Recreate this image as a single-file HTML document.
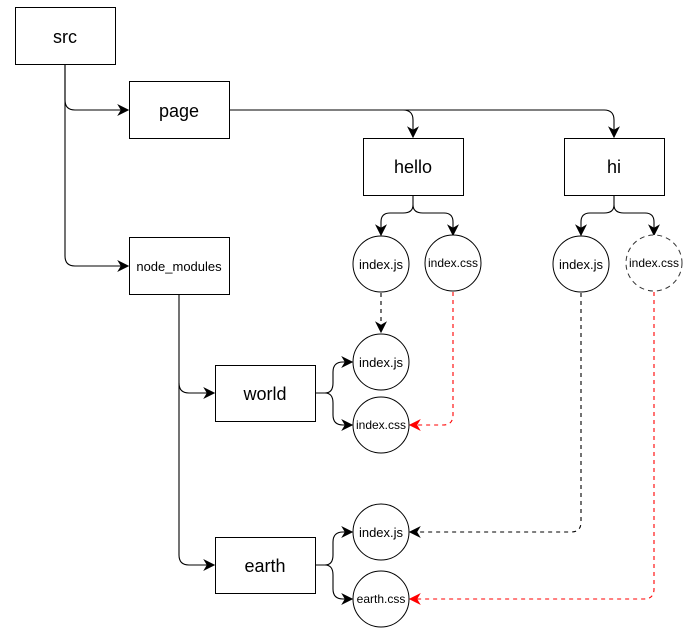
<!DOCTYPE html>
<html><head><meta charset="utf-8"><style>
html,body{margin:0;padding:0;background:#fff;}
svg{display:block;font-family:"Liberation Sans",Arial,sans-serif;}
</style></head><body>
<svg width="699" height="639" viewBox="0 0 699 639" xmlns="http://www.w3.org/2000/svg">
<defs>
<marker id="a" viewBox="0 0 10 10" refX="9" refY="5" markerWidth="12" markerHeight="12" markerUnits="userSpaceOnUse" orient="auto"><path d="M0,0 L10,5 L0,10 L3,5 Z" fill="#000"/></marker>
<marker id="r" viewBox="0 0 10 10" refX="9" refY="5" markerWidth="12" markerHeight="12" markerUnits="userSpaceOnUse" orient="auto"><path d="M0,0 L10,5 L0,10 L3,5 Z" fill="#f00"/></marker>
</defs>
<g fill="none" stroke="#000" stroke-width="1.1">
<path d="M65,64 V100 Q65,110 75,110 H128" marker-end="url(#a)"/>
<path d="M65,64 V256 Q65,266 75,266 H128" marker-end="url(#a)"/>
<path d="M229,110 H403 Q413,110 413,120 V137" marker-end="url(#a)"/>
<path d="M403,110 H604 Q614,110 614,120 V137" marker-end="url(#a)"/>
<path d="M413,195 V205 Q413,213 403,213 H390 Q381,213 381,222 V235" marker-end="url(#a)"/>
<path d="M413,205 Q413,213 423,213 H444 Q453,213 453,222 V235" marker-end="url(#a)"/>
<path d="M614,195 V205 Q614,213 604,213 H590 Q581,213 581,222 V235" marker-end="url(#a)"/>
<path d="M614,205 Q614,213 624,213 H645 Q654,213 654,222 V235" marker-end="url(#a)"/>
<path d="M179,294 V383 Q179,393 189,393 H214" marker-end="url(#a)"/>
<path d="M179,383 V555 Q179,565 189,565 H214" marker-end="url(#a)"/>
<path d="M315,393 H325 Q333,393 333,383 V372 Q333,362 343,362 H352" marker-end="url(#a)"/>
<path d="M325,393 Q333,393 333,403 V415 Q333,425 343,425 H352" marker-end="url(#a)"/>
<path d="M315,565 H325 Q333,565 333,555 V542 Q333,532 343,532 H352" marker-end="url(#a)"/>
<path d="M325,565 Q333,565 333,575 V589 Q333,599 343,599 H352" marker-end="url(#a)"/>
<path d="M381,293 V332" stroke-dasharray="4,4" marker-end="url(#a)"/>
<path d="M581,293 V522 Q581,532 571,532 H410" stroke-dasharray="4,4" marker-end="url(#a)"/>
<path d="M453,292 V415 Q453,425 443,425 H410" stroke="#f00" stroke-dasharray="4,4" marker-end="url(#r)"/>
<path d="M654,292 V589 Q654,599 644,599 H410" stroke="#f00" stroke-dasharray="4,4" marker-end="url(#r)"/>
</g>
<g fill="#fff" stroke="#000" stroke-width="1">
<rect x="15.5" y="7.5" width="100" height="57"/>
<rect x="129.5" y="81.5" width="100" height="57"/>
<rect x="129.5" y="237.5" width="100" height="57"/>
<rect x="363.5" y="138.5" width="100" height="57"/>
<rect x="564.5" y="138.5" width="100" height="57"/>
<rect x="215.5" y="365.5" width="100" height="56"/>
<rect x="215.5" y="537.5" width="100" height="56"/>
<circle cx="381" cy="264" r="28"/>
<circle cx="453" cy="263" r="28"/>
<circle cx="581" cy="264" r="28"/>
<circle cx="654" cy="263" r="28" stroke="#333" stroke-dasharray="5,4"/>
<circle cx="381" cy="362" r="28"/>
<circle cx="381" cy="425" r="28"/>
<circle cx="381" cy="532" r="28"/>
<circle cx="381" cy="599" r="28"/>
</g>
<g fill="#000" text-anchor="middle">
<text x="65" y="43" font-size="18">src</text>
<text x="179" y="117" font-size="18">page</text>
<text x="179" y="271" font-size="13">node_modules</text>
<text x="413" y="173" font-size="18">hello</text>
<text x="614" y="173" font-size="18">hi</text>
<text x="265" y="400" font-size="18">world</text>
<text x="265" y="572" font-size="18">earth</text>
<text x="381" y="269" font-size="13">index.js</text>
<text x="453" y="267" font-size="12">index.css</text>
<text x="581" y="269" font-size="13">index.js</text>
<text x="654" y="267" font-size="12">index.css</text>
<text x="381" y="367" font-size="13">index.js</text>
<text x="381" y="429" font-size="12">index.css</text>
<text x="381" y="537" font-size="13">index.js</text>
<text x="381" y="603" font-size="12">earth.css</text>
</g>
</svg>
</body></html>
